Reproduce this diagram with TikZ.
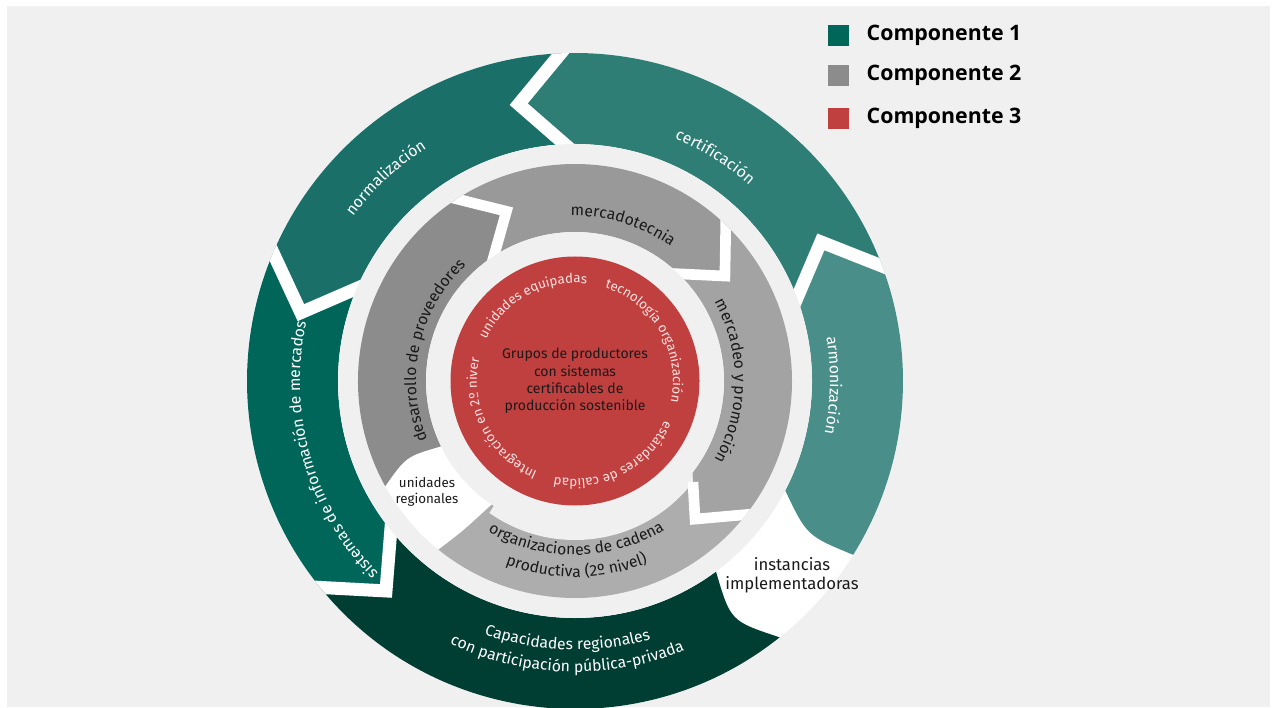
\documentclass[tikz,border=0pt]{standalone}
\usepackage{fontspec}
\setmainfont{Fira Sans}
\newfontfamily\legfont{Open Sans}
\usetikzlibrary{decorations.text,calc}
\definecolor{bgg}{HTML}{F0F0F0}
\definecolor{cnorm}{HTML}{1A7068}
\definecolor{ccert}{HTML}{2F7E76}
\definecolor{carmo}{HTML}{498E88}
\definecolor{csist}{HTML}{00665A}
\definecolor{ccapa}{HTML}{003D33}
\definecolor{cdesa}{HTML}{8C8C8C}
\definecolor{cmkt}{HTML}{999999}
\definecolor{cmerc}{HTML}{A3A3A3}
\definecolor{corga}{HTML}{ADADAD}
\definecolor{cred}{HTML}{C0403F}
\definecolor{cpink}{HTML}{FAE3E3}
\definecolor{ctxt}{HTML}{1A1A1A}
\newcommand\outerfnt{\fontsize{11.8}{14}\selectfont\color{white}}
\newcommand\grayfnt{\fontsize{11.8}{14}\selectfont\color{ctxt}}
\newcommand\redfnt{\fontsize{10}{12}\selectfont\color{cpink}}
\newcommand\arctext[5]{\path[decorate,decoration={text along path,text align=center,text={|#4|#5}}] (#2:#1) arc[start angle=#2,end angle=#3,radius=#1];}
\tikzset{
  gapline/.style={white, line width=9.75pt, line join=miter},
  gapinner/.style={white, line width=8pt, line join=miter},
  legbox/.style={minimum width=15.75pt, minimum height=15.75pt, inner sep=0pt},
  legtext/.style={anchor=west, font=\legfont\bfseries\fontsize{16}{19}\selectfont, text=black}
}
\begin{document}
\begin{tikzpicture}[x=0.75pt,y=0.75pt]
\useasboundingbox (0,0) rectangle (1276,707);
\fill[white] (0,0) rectangle (1276,707);
\fill[bgg] (7,0) rectangle (1270,701);
\begin{scope}[shift={(575,326)}]
  % ---------- outer ring ----------
  \fill[white] (0,0) circle[radius=328];
  % armonizacion
  \fill[carmo] (-27.5:237) arc[start angle=-27.5,end angle=20.5,radius=237]
     -- (29.5:282.5) -- (20.5:328) arc[start angle=20.5,end angle=-32,radius=328]
     .. controls (231.8,-154.7) .. cycle;
  % certificacion
  \fill[ccert] (20.5:237) -- (29.5:282.5) -- (20.5:328) arc[start angle=20.5,end angle=92.5,radius=328]
     -- (101.5:282.5) -- (92.5:237) arc[start angle=92.5,end angle=20.5,radius=237] -- cycle;
  % normalizacion
  \fill[cnorm] (92.5:237) -- (101.5:282.5) -- (92.5:328) arc[start angle=92.5,end angle=157,radius=328]
     -- (166:282.5) -- (157:237) arc[start angle=157,end angle=92.5,radius=237] -- cycle;
  % sistemas
  \fill[csist] (157:237) -- (166:282.5) -- (157:328) arc[start angle=157,end angle=219,radius=328]
     -- (228:282.5) -- (219:237) arc[start angle=219,end angle=157,radius=237] -- cycle;
  % capacidades
  \fill[ccapa] (219:237) -- (228:282.5) -- (219:328) arc[start angle=219,end angle=308.6,radius=328]
     .. controls (155.5,-240.1) .. (306.5:237) arc[start angle=306.5,end angle=219,radius=237] -- cycle;
  \begin{scope}
    \clip (0,0) circle[radius=328];
    \foreach \t in {20.5,92.5,157,219} {
      \draw[gapline] ($({\t+9}:282.5)!1.4!(\t:328)$) -- ({\t+9}:282.5) -- ($({\t+9}:282.5)!1.4!(\t:237)$);
    }
  \end{scope}
  \fill[bgg] (0,0) circle[radius=237];
  % ---------- gray ring ----------
  \fill[white] (195:149) arc[start angle=195,end angle=245,radius=149]
     -- (245:217) arc[start angle=245,end angle=195,radius=217] -- cycle;
  % mercadotecnia
  \fill[cmkt] (46:149) -- (35:183) -- (46:217) arc[start angle=46,end angle=123,radius=217]
     -- (112:183) -- (123:149) arc[start angle=123,end angle=46,radius=149] -- cycle;
  % mercadeo
  \fill[cmerc] (-38:149) -- (-49:183) -- (-38:217) arc[start angle=-38,end angle=46,radius=217]
     -- (35:183) -- (46:149) arc[start angle=46,end angle=-38,radius=149] -- cycle;
  % desarrollo
  \fill[cdesa] (123:149) -- (112:183) -- (123:217) arc[start angle=123,end angle=209,radius=217]
     .. controls (-168.9,-75.5) .. (206:149) arc[start angle=206,end angle=123,radius=149] -- cycle;
  % organizaciones
  \fill[corga] (231:217) arc[start angle=231,end angle=322,radius=217]
     -- (311:183) -- (322:149) arc[start angle=322,end angle=236,radius=149]
     .. controls (-112,-150) .. cycle;
  \begin{scope}
    \clip (0,0) circle[radius=217];
    \foreach \t in {46,123} {
      \draw[gapinner] ($({\t-11}:183)!1.4!(\t:217)$) -- ({\t-11}:183) -- ($({\t-11}:183)!1.4!(\t:149)$);
    }
  \end{scope}
  \fill[bgg] (0,0) circle[radius=149];
  \begin{scope}
    \clip (0,0) -- (237:230) arc[start angle=237,end angle=311,radius=230] -- (311:183) -- (322:149) -- cycle;
    \fill[bgg] (0,-10) circle[radius=149];
  \end{scope}
  \begin{scope}
    \clip (0,0) circle[radius=217];
    \draw[gapinner] ($(-49:183)!1.4!(-38:217)$) -- (-49:183) -- ($(-49:183)!0.8!(-38:149)$);
  \end{scope}
  % ---------- red core ----------
  \fill[cred] (0,0) circle[radius=124.5];
  \node[align=center, font=\fontsize{10.5}{13}\selectfont, text=ctxt] (core) at (0,0)
    {Grupos de productores\\con sistemas\\certificables de\\producción sostenible};
  \arctext{98}{160}{78}{\redfnt}{unidades equipadas}
  \arctext{98}{75}{-15}{\redfnt}{tecnología organización}
  \arctext{98}{-20}{-106}{\redfnt}{estándares de calidad}
  \arctext{98}{250}{164}{\redfnt}{Integración en 2º niver}
  % ---------- gray labels ----------
  \arctext{165}{110}{36}{\grayfnt}{mercadotecnia}
  \arctext{160}{40}{-40}{\grayfnt}{mercadeo y promoción}
  \arctext{159}{207.5}{127.5}{\grayfnt}{desarrollo de proveedores}
  \arctext{174}{235}{306}{\grayfnt}{organizaciones de cadena}
  \arctext{196}{240}{301}{\grayfnt}{productiva (2º nivel)}
  % ---------- outer labels ----------
  \arctext{276}{160}{106}{\outerfnt}{normalización}
  \arctext{262}{85}{31}{\outerfnt}{certificación}
  \arctext{255}{25}{-27}{\outerfnt}{armonización}
  \arctext{275}{232}{160}{\outerfnt}{sistemas de información de mercados}
  \arctext{269}{233.3}{303.3}{\outerfnt}{Capacidades regionales}
  \arctext{291}{228.3}{308.3}{\outerfnt}{con participación pública-privada}
  \node[align=center, font=\fontsize{12.5}{14.25}\selectfont, text=ctxt] (inst) at (217,-194.5)
    {instancias\\implementadoras};
  \node[align=center, font=\fontsize{10}{12}\selectfont, text=ctxt] (unid) at (-148,-111)
    {unidades\\regionales};
\end{scope}
% ---------- legend ----------
\node[legbox, fill=csist] (l1) at (838.5,671.5) {};
\node[legbox, fill=cdesa] (l2) at (838.5,631.5) {};
\node[legbox, fill=cred] (l3) at (838.5,588.5) {};
\node[legtext] (t1) at (862,671.5) {Componente 1};
\node[legtext] (t2) at (862,631.5) {Componente 2};
\node[legtext] (t3) at (862,588.5) {Componente 3};
\end{tikzpicture}
\end{document}
